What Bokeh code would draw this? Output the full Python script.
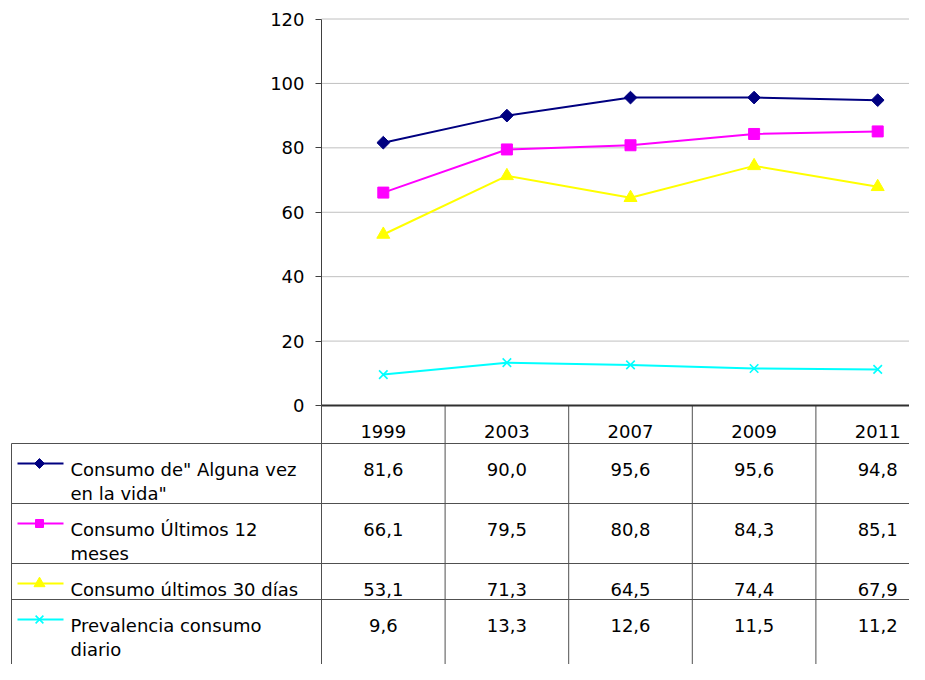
from bokeh.plotting import figure
from bokeh.models import Range1d, LinearAxis, FixedTicker
from bokeh.core.properties import value
from bokeh.embed import file_html
from bokeh.resources import INLINE

# ---- data ----
years = ["1999", "2003", "2007", "2009", "2011"]
alguna_vez = [81.6, 90.0, 95.6, 95.6, 94.8]
ultimos_12 = [66.1, 79.5, 80.8, 84.3, 85.1]
ultimos_30 = [53.1, 71.3, 64.5, 74.4, 67.9]
diario = [9.6, 13.3, 12.6, 11.5, 11.2]
series_labels = [
    ['Consumo de" Alguna vez', 'en la vida"'],
    ["Consumo Últimos 12", "meses"],
    ["Consumo últimos 30 días"],
    ["Prevalencia consumo", "diario"],
]
y_ticks = [0, 20, 40, 60, 80, 100, 120]

# ---- layout constants ----
W, H = 909, 664
AX = 321.0      # x pixel of the value axis
CW = 123.6      # width of one category column in pixels
Y0 = 405.0      # y pixel of value 0
PPU = 386.5 / 120.0  # pixels per value unit
FONT = value("DejaVu Sans")
FS = "18px"
GRID = "#c0c0c0"
LINE = "#505050"

p = figure(width=W, height=H,
           x_range=Range1d(-AX / CW, (W - AX) / CW),
           y_range=Range1d(-(H - Y0) / PPU, Y0 / PPU),
           x_axis_location=None, y_axis_location=None,
           toolbar_location=None, tools="", output_backend="svg",
           min_border=0, outline_line_color=None)
for g in p.grid:
    g.visible = False
p.extra_x_ranges = {"px": Range1d(0, W)}
p.extra_y_ranges = {"px": Range1d(H, 0)}

n = len(years)
xs = [i + 0.5 for i in range(n)]

# gridlines over the plot area
gt = y_ticks[1:]
p.segment(x0=[0] * len(gt), x1=[n] * len(gt), y0=gt, y1=gt,
          line_color=GRID, line_width=1)

# ---- data table ----
row_tops = [443, 503, 563, 599]
FIRST = 26   # first baseline below row top
LH = 24      # line spacing of wrapped labels
LEFT = 11
p.segment(x0=[LEFT] * len(row_tops), x1=[W] * len(row_tops), y0=row_tops, y1=row_tops,
          x_range_name="px", y_range_name="px", line_color=LINE, line_width=1)
p.segment(x0=[LEFT], x1=[LEFT], y0=[row_tops[0]], y1=[H],
          x_range_name="px", y_range_name="px", line_color=LINE, line_width=1)
cols = list(range(n))
p.segment(x0=cols, x1=cols, y0=[Y0] * n, y1=[H] * n,
          y_range_name="px", line_color=LINE, line_width=1)
# category axis line
p.segment(x0=[0], x1=[n], y0=[0], y1=[0], line_color="#303030", line_width=2)

p.text(x=xs, y=[431] * n, text=years, y_range_name="px",
       text_align="center", text_baseline="alphabetic",
       text_font=FONT, text_font_size=FS, text_color="black")

series = [
    # values, colour, marker, size, key size, angle
    (alguna_vez, "#000080", "square", 9, 7, 0.7854),
    (ultimos_12, "#ff00ff", "square", 11, 8, 0.0),
    (ultimos_30, "#ffff00", "triangle", 13, 11, 0.0),
    (diario, "#00ffff", "x", 12, 11, 0.0),
]

for r, (vals, color, marker, msize, ksize, ang) in enumerate(series):
    base = row_tops[r] + FIRST
    # values in the table
    p.text(x=xs, y=[base] * n, text=[f"{v:.1f}".replace(".", ",") for v in vals],
           y_range_name="px", text_align="center", text_baseline="alphabetic",
           text_font=FONT, text_font_size=FS, text_color="black")
    # label lines
    lines = series_labels[r]
    p.text(x=[70] * len(lines), y=[base + LH * k for k in range(len(lines))], text=lines,
           x_range_name="px", y_range_name="px", text_align="left", text_baseline="alphabetic",
           text_font=FONT, text_font_size=FS, text_color="black")
    # legend key
    ky = base - 6
    lw = 1.6 if marker == "x" else 1
    p.segment(x0=[17], x1=[63], y0=[ky], y1=[ky], x_range_name="px", y_range_name="px",
              line_color=color, line_width=2)
    p.scatter(x=[39], y=[ky], x_range_name="px", y_range_name="px", marker=marker,
              size=ksize, angle=ang, fill_color=color, line_color=color, line_width=lw)
    # chart
    p.line(x=xs, y=vals, line_color=color, line_width=2)
    p.scatter(x=xs, y=vals, marker=marker, size=msize, angle=ang, fill_color=color,
              line_color=color, line_width=lw)

ax = LinearAxis(fixed_location=0, bounds=(0, 120), ticker=FixedTicker(ticks=y_ticks),
                major_tick_out=6, major_tick_in=0, minor_tick_out=0, minor_tick_in=0,
                axis_line_color="#404040", major_tick_line_color="#404040",
                major_label_text_font="DejaVu Sans", major_label_text_font_size="18px",
                major_label_text_color="black", major_label_standoff=11)
p.add_layout(ax, "left")

open("out.html", "w").write(file_html(p, INLINE))
